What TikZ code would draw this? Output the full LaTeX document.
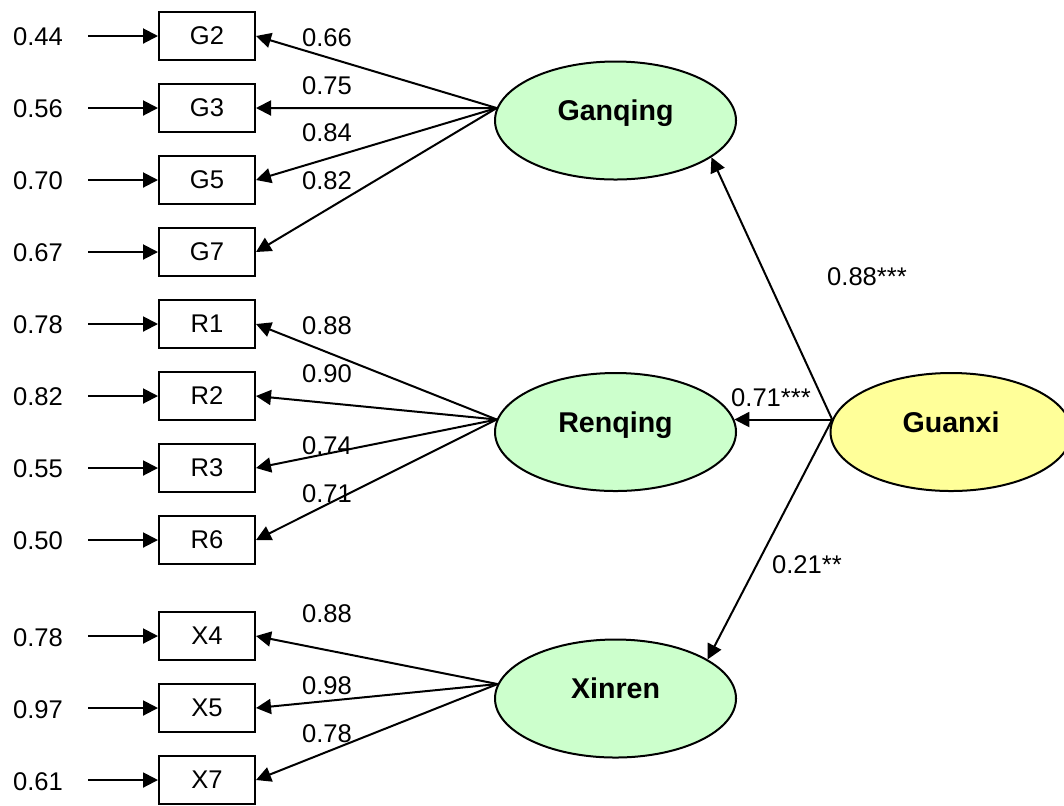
\documentclass[tikz,border=0pt]{standalone}
\usepackage{fontspec}
\setmainfont{Liberation Sans}
\usetikzlibrary{arrows.meta,shapes.geometric}
\definecolor{lgreen}{HTML}{CCFFCC}
\definecolor{lyellow}{HTML}{FFFF99}
\tikzset{
  obs/.style={draw, line width=1pt, rectangle, minimum width=48pt, minimum height=24pt, inner sep=0pt, font=\fontsize{12.8}{15}\selectfont},
  lat/.style={draw, line width=1pt, ellipse, minimum width=120.5pt, minimum height=59pt, inner sep=0pt},
  lattxt/.style={anchor=base, inner sep=0pt, font=\fontsize{14.3}{17}\selectfont\bfseries},
  num/.style={inner sep=0pt, font=\fontsize{12.8}{15}\selectfont},
  arr/.style={line width=1pt, -{Triangle[length=7.5pt,width=7.5pt]}},
}
\begin{document}
\begin{tikzpicture}[x=0.5pt,y=-0.5pt]
\useasboundingbox (0,0) rectangle (1064,805);
% latent variables
\node[lat, fill=lgreen] (Gan) at (615.5,120.5) {};
\node[lat, fill=lgreen] (Ren) at (615.5,432) {};
\node[lat, fill=lgreen] (Xin) at (615.5,698.5) {};
\node[lat, fill=lyellow] (Gx) at (951,432) {};
\node[lattxt] (GanT) at (Gan.center) {Ganqing};
\node[lattxt] (RenT) at (Ren.center) {Renqing};
\node[lattxt] (XinT) at (Xin.center) {Xinren};
\node[lattxt] (GxT) at (Gx.center) {Guanxi};
% observed variables
\foreach \n/\y/\e/\ey in {G2/36/0.44/37, G3/108/0.56/109, G5/180/0.70/181, G7/252/0.67/253,
  R1/324/0.78/325, R2/396/0.82/397, R3/468/0.55/469, R6/540/0.50/541,
  X4/636/0.78/638, X5/708/0.97/710, X7/780/0.61/782}{
  \node[obs] (\n) at (207,\y) {\n};
  \node[num] (e\n) at (38,\ey) {\e};
  \coordinate (s\n) at (88,\y);
  \draw[arr] (s\n) -- (\n.west);
}
% loadings
\foreach \n in {G2,G3,G5,G7}{\draw[arr] (Gan.174) -- (\n.east);}
\foreach \n in {R1,R2,R3,R6}{\draw[arr] (Ren.174) -- (\n.east);}
\foreach \n in {X4,X5,X7}{\draw[arr] (Xin.173) -- (\n.east);}
% loading labels
\node[num] (lG2) at (327,37.5) {0.66};
\node[num] (lG3) at (327,85.5) {0.75};
\node[num] (lG5) at (327,133) {0.84};
\node[num] (lG7) at (327,181) {0.82};
\node[num] (lR1) at (327,326) {0.88};
\node[num] (lR2) at (327,374) {0.90};
\node[num] (lR3) at (327,446) {0.74};
\node[num] (lR6) at (327,494) {0.71};
\node[num] (lX4) at (327,614) {0.88};
\node[num] (lX5) at (327,686) {0.98};
\node[num] (lX7) at (327,734) {0.78};
% structural paths
\draw[arr] (Gx.174) -- (Gan.-21);
\draw[arr] (Gx.174) -- (Ren.6);
\draw[arr] (Gx.174) -- (Xin.23);
\node[num] (sG) at (867,277) {0.88***};
\node[num] (sR) at (771,398) {0.71***};
\node[num] (sX) at (807,565) {0.21**};
\end{tikzpicture}
\end{document}
